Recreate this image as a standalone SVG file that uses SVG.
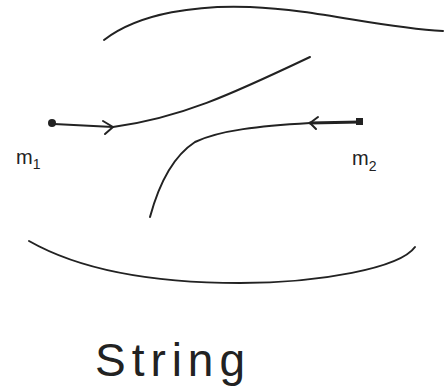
<svg xmlns="http://www.w3.org/2000/svg" width="445" height="389" viewBox="0 0 445 389">
<style>
.c{fill:none;stroke:#222;stroke-width:2;stroke-linecap:round;stroke-linejoin:round}
.t{font-family:"Liberation Sans",Arial,sans-serif;fill:#222}
</style>
<rect width="445" height="389" fill="#fff"/>
<g id="connectors">
<path class="c" d="M104,40 C140,12 200,5 250,7 C320,10 380,28 443,31"/>
<path class="c" d="M54,124 L113,127"/>
<path class="c" d="M103,121 L113,127 L105,134"/>
<path class="c" d="M113,127 C180,118 230,95 310,57"/>
<path class="c" d="M360,122 L310,123" style="stroke-width:3"/>
<path class="c" d="M318,117 L310,123 L316,129"/>
<path class="c" d="M310,123 C260,126 220,130 195,142 C175,155 160,180 150,217"/>
<path class="c" d="M29,241 C80,270 150,283 240,283 C320,283 400,268 415,247"/>
</g>
<g id="m1">
<circle cx="52" cy="123" r="4" fill="#222"/>
<text class="t" x="16" y="164" font-size="20">m<tspan font-size="14" dy="5">1</tspan></text>
</g>
<g id="m2">
<rect x="356" y="118" width="7" height="7" fill="#222"/>
<text class="t" x="352" y="165" font-size="20">m<tspan font-size="14" dy="6">2</tspan></text>
</g>
<g id="string">
<text class="t" x="95" y="376" font-size="46" textLength="150" lengthAdjust="spacing">String</text>
</g>
</svg>
